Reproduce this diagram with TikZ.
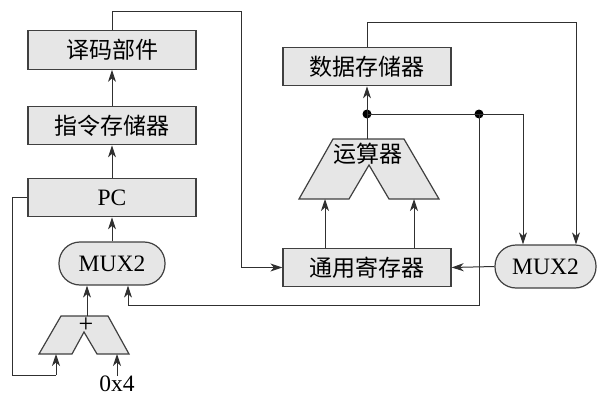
\documentclass[tikz,border=0pt]{standalone}
\usepackage{fontspec}
\setmainfont{Liberation Serif}
\newfontfamily\cjk{Noto Sans CJK SC}
\usetikzlibrary{arrows.meta}
\definecolor{boxfill}{HTML}{E6E6E6}
\definecolor{boxline}{HTML}{404040}
\definecolor{wire}{HTML}{303030}
\tikzset{
  blk/.style={draw=boxline, line width=1.2pt, fill=boxfill, minimum width=168pt, minimum height=38.5pt, inner sep=0pt, font=\cjk\fontsize{23}{26}\selectfont},
  muxbox/.style={draw=boxline, line width=1.2pt, fill=boxfill, rounded corners=21pt, minimum height=43pt, inner sep=0pt, font=\fontsize{23.5}{26}\selectfont},
  alushape/.style={draw=boxline, line width=1.2pt, fill=boxfill},
  wr/.style={draw=wire, line width=1pt},
  arr/.style={wr, -{Stealth[length=12pt,width=8pt,inset=3.5pt]}},
  dotc/.style={circle, fill=black, inner sep=0pt, minimum size=9pt}
}
\begin{document}
\begin{tikzpicture}[x=1pt,y=-1pt]
\useasboundingbox (0,0) rectangle (597,396);
% left column
\node[blk] (yima) at (112,50) {译码部件};
\node[blk] (zl) at (112,125.5) {指令存储器};
\node[blk, font=\fontsize{23.5}{26}\selectfont] (pc) at (112,197.5) {PC};
\node[muxbox, minimum width=106pt] (muxa) at (112,263.5) {MUX2};
% adder
\draw[alushape] (61,316) -- (108,316) -- (129,354) -- (97,354) -- (84,332) -- (72,354) -- (39,354) -- cycle;
\node[font=\fontsize{26}{28}\selectfont, inner sep=0pt] (plus) at (86,325) {+};
\coordinate (addtop) at (87,316);
\coordinate (addl) at (56,354);
\coordinate (addr) at (117,354);
\node[font=\fontsize{23.5}{26}\selectfont, inner sep=0pt, anchor=north] (c4) at (117,376) {0x4};
% right column
\node[blk] (sj) at (367,66.5) {数据存储器};
\node[blk] (reg) at (367,267.5) {通用寄存器};
\node[muxbox, minimum width=101pt] (muxb) at (545.5,266.5) {MUX2};
% ALU
\draw[alushape] (333,139) -- (404,139) -- (439,199) -- (389,199) -- (369,165) -- (349,199) -- (299,199) -- cycle;
\node[font=\cjk\fontsize{23}{26}\selectfont, inner sep=0pt] (alu) at (368,154) {运算器};
\coordinate (alutop) at (367,139);
\coordinate (alul) at (325,199);
\coordinate (alur) at (414,199);
\node[dotc] (d1) at (367,114) {};
\node[dotc] (d2) at (479,114) {};
% bend points
\coordinate (p1) at (112,12);
\coordinate (p2) at (241,12);
\coordinate (q1) at (367,23);
\coordinate (q2) at (576,23);
\coordinate (r1) at (523,114);
\coordinate (s1) at (479,305);
\coordinate (s2) at (128,305);
\coordinate (u1) at (12,197.5);
\coordinate (u2) at (12,375);
\coordinate (u3) at (56,375);
% connectors
\draw[arr] (zl.north) -- (yima.south);
\draw[arr] (pc.north) -- (zl.south);
\draw[arr] (muxa.north) -- (pc.south);
\draw[arr] (addtop) -- (addtop |- muxa.south);
\draw[arr] (yima.north) -- (p1) -- (p2) |- (reg.west);
\draw[wr] (pc.west) -- (u1) -- (u2) -- (u3);
\draw[arr] (u3) -- (addl);
\draw[arr] (c4.north) -- (addr);
\draw[wr] (alutop) -- (d1.center);
\draw[arr] (d1.center) -- (sj.south);
\draw[wr] (d1.center) -- (r1);
\draw[arr] (r1) -- (r1 |- muxb.north);
\draw[arr] (sj.north) -- (q1) -- (q2) -- (q2 |- muxb.north);
\draw[arr] (d2.center) -- (s1) -- (s2) -- (s2 |- muxa.south);
\draw[arr] (reg.north -| alul) -- (alul);
\draw[arr] (reg.north -| alur) -- (alur);
\draw[arr] (muxb.west) -- (reg.east);
\end{tikzpicture}
\end{document}
